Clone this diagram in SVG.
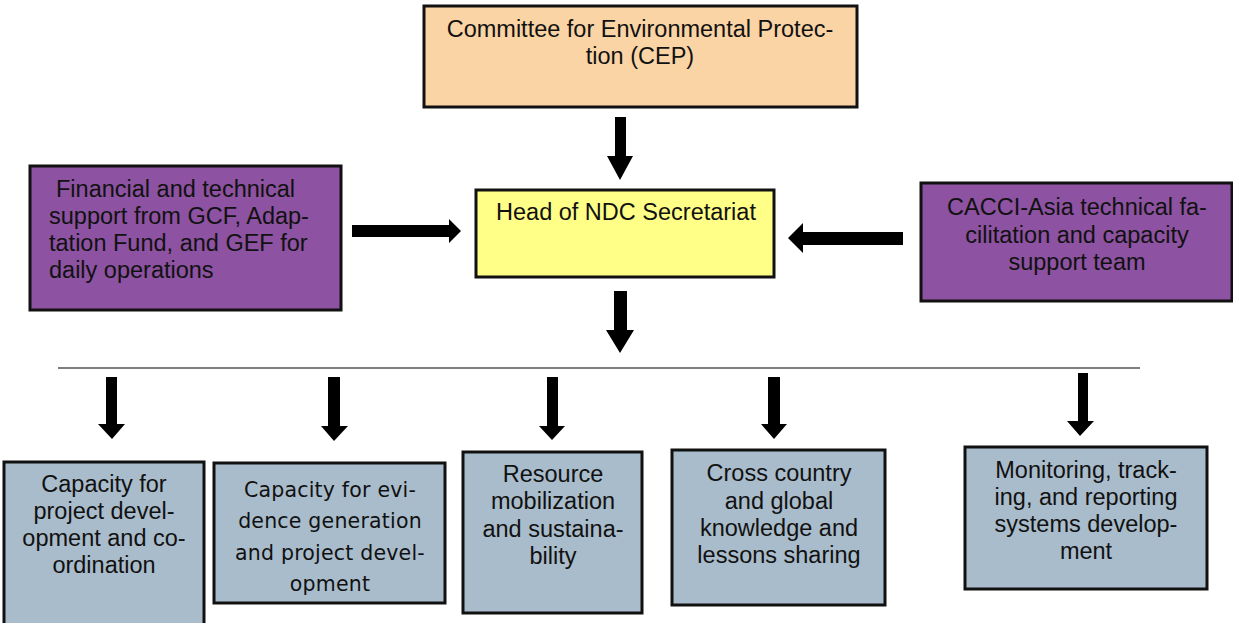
<svg xmlns="http://www.w3.org/2000/svg" width="1233" height="623" viewBox="0 0 1233 623">
<style>
.box{stroke:#111;stroke-width:3}
.peach{fill:#FBD4A5}
.yellow{fill:#FFFF88}
.purple{fill:#8D52A1}
.gray{fill:#A9BCCB}
text{font-family:"Liberation Sans",Arial,sans-serif;font-size:23.5px;fill:#111}
.c{text-anchor:middle}
.k{font-family:"DejaVu Sans","Noto Sans",sans-serif;font-size:20.5px;letter-spacing:0.2px}
.arr{fill:#000}
</style>
<rect x="0" y="0" width="1233" height="623" fill="#fff"/>
<g id="connectors">
<line x1="58" y1="368" x2="1140" y2="368" stroke="#555" stroke-width="1.6"/>
<polygon class="arr" points="615,117 626,117 626,156 633,156 620,180 607,156 615,156"/>
<polygon class="arr" points="352,225 449,225 449,219 461,231 449,243 449,237 352,237"/>
<polygon class="arr" points="903,232 803,232 803,223 788,238 803,253 803,245 903,245"/>
<polygon class="arr" points="614,291 627,291 627,330 634,330 620,353 606,330 614,330"/>
<polygon class="arr" points="106,377 117,377 117,424 125,424 112,439 98,424 106,424"/>
<polygon class="arr" points="328,377 340,377 340,426 348,426 334,441 321,426 328,426"/>
<polygon class="arr" points="547,377 558,377 558,426 565,426 552,440 539,426 547,426"/>
<polygon class="arr" points="768,377 780,377 780,424 787,424 774,439 761,424 768,424"/>
<polygon class="arr" points="1078,373 1088,373 1088,421 1094,421 1080,436 1067,421 1078,421"/>
</g>
<g id="cep">
<rect class="box peach" x="424" y="6" width="433" height="101"/>
<text class="c" x="640" y="37">Committee for Environmental Protec-</text>
<text class="c" x="640" y="64">tion (CEP)</text>
</g>
<g id="head">
<rect class="box yellow" x="476" y="190" width="298" height="87"/>
<text class="c" x="626" y="220">Head of NDC Secretariat</text>
</g>
<g id="financial">
<rect class="box purple" x="30" y="166" width="311" height="144"/>
<text x="56" y="197">Financial and technical</text>
<text x="49" y="224">support from GCF, Adap-</text>
<text x="49" y="251">tation Fund, and GEF for</text>
<text x="49" y="278">daily operations</text>
</g>
<g id="cacci">
<rect class="box purple" x="921" y="183" width="311" height="118"/>
<text class="c" x="1077" y="215">CACCI-Asia technical fa-</text>
<text class="c" x="1077" y="243">cilitation and capacity</text>
<text class="c" x="1077" y="270">support team</text>
</g>
<g id="b1">
<rect class="box gray" x="4" y="462" width="200" height="170"/>
<text class="c" x="104" y="492">Capacity for</text>
<text class="c" x="104" y="519">project devel-</text>
<text class="c" x="104" y="546">opment and co-</text>
<text class="c" x="104" y="573">ordination</text>
</g>
<g id="b2">
<rect class="box gray" x="214" y="463" width="231" height="140"/>
<text class="c k" x="330" y="497">Capacity for evi-</text>
<text class="c k" x="330" y="528">dence generation</text>
<text class="c k" x="330" y="560">and project devel-</text>
<text class="c k" x="330" y="591">opment</text>
</g>
<g id="b3">
<rect class="box gray" x="463" y="452" width="179" height="161"/>
<text class="c" x="553" y="482">Resource</text>
<text class="c" x="553" y="509">mobilization</text>
<text class="c" x="553" y="537">and sustaina-</text>
<text class="c" x="553" y="564">bility</text>
</g>
<g id="b4">
<rect class="box gray" x="672" y="450" width="213" height="155"/>
<text class="c" x="779" y="481">Cross country</text>
<text class="c" x="779" y="509">and global</text>
<text class="c" x="779" y="536">knowledge and</text>
<text class="c" x="779" y="563">lessons sharing</text>
</g>
<g id="b5">
<rect class="box gray" x="965" y="447" width="242" height="142"/>
<text class="c" x="1086" y="478">Monitoring, track-</text>
<text class="c" x="1086" y="505">ing, and reporting</text>
<text class="c" x="1086" y="532">systems develop-</text>
<text class="c" x="1086" y="559">ment</text>
</g>
</svg>
